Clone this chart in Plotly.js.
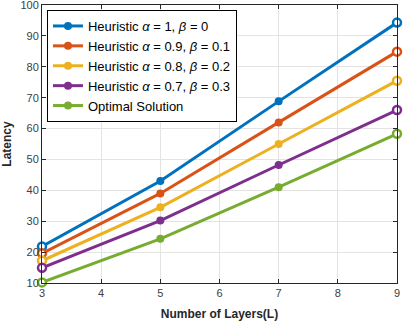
<!DOCTYPE html>
<html>
<head>
<meta charset="utf-8">
<script src="https://cdn.plot.ly/plotly-3.0.1.min.js"></script>
<style>
  html, body { margin: 0; padding: 0; background: #fff; }
  #chart { width: 410px; height: 322px; }
</style>
</head>
<body>
<div id="chart"></div>
<script>
const layers = [3, 5, 7, 9];
const seriesNames = [
  "Heuristic <i>α</i> = 1, <i>β</i> = 0",
  "Heuristic <i>α</i> = 0.9, <i>β</i> = 0.1",
  "Heuristic <i>α</i> = 0.8, <i>β</i> = 0.2",
  "Heuristic <i>α</i> = 0.7, <i>β</i> = 0.3",
  "Optimal Solution",
];
const latencyA10 = [21.8, 43.0, 68.8, 94.3];
const latencyA09 = [19.6, 39.0, 62.0, 84.9];
const latencyA08 = [17.2, 34.5, 55.0, 75.5];
const latencyA07 = [14.9, 30.2, 48.2, 66.0];
const latencyOpt = [10.2, 24.3, 41.0, 58.3];
const yTicks = [10, 20, 30, 40, 50, 60, 70, 80, 90, 100];
const seriesColors = ["#0072bd", "#d95319", "#edb120", "#7e2f8e", "#77ac30"];

const allSeries = [latencyA10, latencyA09, latencyA08, latencyA07, latencyOpt];
const axisColor = "#262626";

const traces = [];
allSeries.forEach((ys, i) => {
  traces.push({
    x: layers,
    y: ys,
    name: seriesNames[i],
    mode: "lines+markers",
    line: { color: seriesColors[i], width: 3 },
    marker: { color: seriesColors[i], size: 8, symbol: "circle" },
    cliponaxis: false,
  });
});
// hollow markers at the two ends, as in the original figure
allSeries.forEach((ys, i) => {
  const last = ys.length - 1;
  traces.push({
    x: [layers[0], layers[last]],
    y: [ys[0], ys[last]],
    mode: "markers",
    showlegend: false,
    marker: { color: "#ffffff", size: 8, line: { color: seriesColors[i], width: 2.5 } },
    cliponaxis: false,
    hoverinfo: "skip",
  });
});

const axisBase = {
  showline: true,
  linecolor: axisColor,
  linewidth: 1,
  mirror: "ticks",
  ticks: "inside",
  ticklen: 4,
  tickcolor: axisColor,
  showgrid: true,
  gridcolor: "#e3e3e3",
  zeroline: false,
  ticklabeloverflow: "allow",
  tickfont: { size: 11, color: "#404040", family: "Liberation Sans, Arial, sans-serif" },
};

const layout = {
  width: 410,
  height: 322,
  paper_bgcolor: "#ffffff",
  plot_bgcolor: "#ffffff",
  font: { family: "Liberation Sans, Arial, sans-serif", color: axisColor },
  margin: { l: 42, r: 13, t: 5, b: 39 },
  xaxis: {
    ...axisBase,
    range: [3, 9],
    dtick: 1,
    title: { text: "<b>Number of Layers(L)</b>", font: { size: 12, color: axisColor }, standoff: 11 },
  },
  yaxis: {
    ...axisBase,
    range: [10, 100],
    tickmode: "array",
    tickvals: yTicks,
    title: { text: "<b>Latency</b>", font: { size: 12, color: axisColor }, standoff: 10 },
  },
  legend: {
    x: 0.014,
    y: 0.982,
    xanchor: "left",
    yanchor: "top",
    bgcolor: "#ffffff",
    bordercolor: "#000000",
    borderwidth: 1,
    font: { size: 13, color: "#000000" },
    tracegroupgap: 0,
  },
  showlegend: true,
};

Plotly.newPlot("chart", traces, layout, { displayModeBar: false, staticPlot: true });
</script>
</body>
</html>
